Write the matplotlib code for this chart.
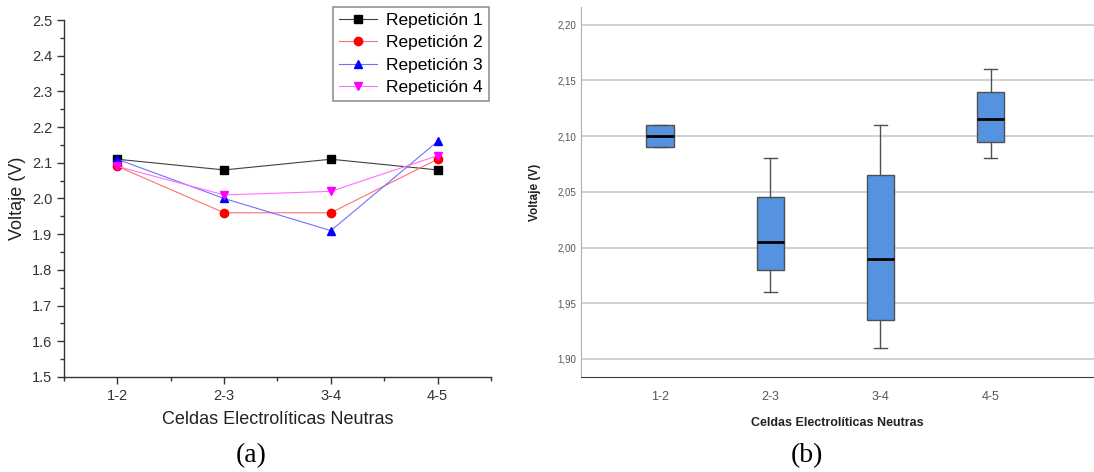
import matplotlib
matplotlib.use("Agg")
import matplotlib.pyplot as plt
import numpy as np
from matplotlib.ticker import MultipleLocator

celdas = ["1-2", "2-3", "3-4", "4-5"]
rep1 = [2.11, 2.08, 2.11, 2.08]
rep2 = [2.09, 1.96, 1.96, 2.11]
rep3 = [2.11, 2.00, 1.91, 2.16]
rep4 = [2.09, 2.01, 2.02, 2.12]
nombres = ["Repetición 1", "Repetición 2", "Repetición 3", "Repetición 4"]
yticks_b = [1.90, 1.95, 2.00, 2.05, 2.10, 2.15, 2.20]


def tukey_stats(valores, etiqueta):
    """Cuartiles por bisagras de Tukey, bigotes al min/max."""
    v = np.sort(np.asarray(valores))
    n = len(v)
    med = np.median(v)
    half = (n + 1) // 2
    q1 = np.median(v[:half])
    q3 = np.median(v[n - half:])
    return dict(med=med, q1=q1, q3=q3, whislo=v[0], whishi=v[-1],
                fliers=[], label=etiqueta)


plt.rcParams['font.family'] = ['Liberation Sans', 'DejaVu Sans']

fig = plt.figure(figsize=(10.94, 4.72), dpi=100)

# ---- (a) lineas por repeticion ----
ax = fig.add_axes([0.0585, 0.2013, 0.3903, 0.7563])
x = np.arange(1, len(celdas) + 1)
series = [rep1, rep2, rep3, rep4]
lineas = ["#404040", "#ff7070", "#7070ff", "#ff70ff"]
marcas_col = ["black", "red", "blue", "magenta"]
marcas = ["s", "o", "^", "v"]
for ys, nom, lc, mc, mk in zip(series, nombres, lineas, marcas_col, marcas):
    ax.plot(x, ys, color=lc, lw=0.8, marker=mk, markersize=6,
            markerfacecolor=mc, markeredgecolor=mc, label=nom)

ax.set_xlim(0.5, 4.5)
ax.set_ylim(1.5, 2.5)
ax.set_xticks(x)
ax.set_xticklabels(celdas)
ax.xaxis.set_minor_locator(MultipleLocator(0.5))
ax.yaxis.set_major_locator(MultipleLocator(0.1))
ax.yaxis.set_minor_locator(MultipleLocator(0.05))
ax.yaxis.set_major_formatter(matplotlib.ticker.FormatStrFormatter("%.1f"))
ax.spines['top'].set_visible(False)
ax.spines['right'].set_visible(False)
for s in ("left", "bottom"):
    ax.spines[s].set_color("#333333")
    ax.spines[s].set_linewidth(1.0)
ax.tick_params(which="major", direction="out", length=5, width=1,
               colors="#333333", labelsize=10.5)
ax.tick_params(which="minor", direction="out", length=3, width=1, colors="#333333")
ax.set_xlabel("Celdas Electrolíticas Neutras", fontsize=13, color="#222222", labelpad=6)
ax.set_ylabel("Voltaje (V)", fontsize=13, color="#222222", labelpad=4)
leg = ax.legend(loc="upper right", bbox_to_anchor=(0.995, 1.037), fontsize=12.5,
                frameon=True, fancybox=False, handlelength=2.2,
                borderpad=0.35, labelspacing=0.42, handletextpad=0.5,
                borderaxespad=0.0)
leg.get_frame().set_edgecolor("#777777")
leg.get_frame().set_linewidth(1.2)

fig.text(0.23, 0.02, "(a)", fontsize=20, family="Liberation Serif", ha="center")

# ---- (b) diagrama de cajas ----
bx = fig.add_axes([0.531, 0.2013, 0.469, 0.784])
stats = [tukey_stats([r1, r2, r3, r4], c)
         for c, r1, r2, r3, r4 in zip(celdas, rep1, rep2, rep3, rep4)]
bp = bx.bxp(stats, positions=x, widths=0.25, patch_artist=True,
            showfliers=False,
            boxprops=dict(facecolor="#5593e0", edgecolor="#505050", linewidth=1.0),
            medianprops=dict(color="black", linewidth=2.0),
            whiskerprops=dict(color="#505050", linewidth=1.0),
            capprops=dict(color="#505050", linewidth=1.0),
            capwidths=0.12)
bx.set_xlim(0.28, 4.94)
bx.set_ylim(1.8838, 2.216)
bx.set_yticks(yticks_b)
bx.set_yticklabels([f"{v:.2f}".replace(".", ",") for v in yticks_b])
bx.yaxis.grid(True, color="#c8c8c8", linewidth=1.2)
bx.set_axisbelow(True)
bx.spines['top'].set_visible(False)
bx.spines['right'].set_visible(False)
bx.spines['left'].set_color("#b0b0b0")
bx.spines['bottom'].set_color("#404040")
bx.tick_params(axis="both", length=0, labelsize=7, colors="#555555")
bx.tick_params(axis="x", labelsize=9, pad=10)
for t in bx.get_yticklabels() + bx.get_xticklabels():
    t.set_family(["Liberation Sans Narrow", "Liberation Sans"])
bx.set_xlabel("Celdas Electrolíticas Neutras", fontsize=9, fontweight="bold",
              family=["Liberation Sans Narrow", "Liberation Sans"],
              color="#222222", labelpad=10)
bx.set_ylabel("Voltaje (V)", fontsize=8.5, fontweight="bold", color="#222222", labelpad=12)

fig.text(0.738, 0.02, "(b)", fontsize=20, family="Liberation Serif", ha="center")

fig.savefig("out.png", dpi=100)
